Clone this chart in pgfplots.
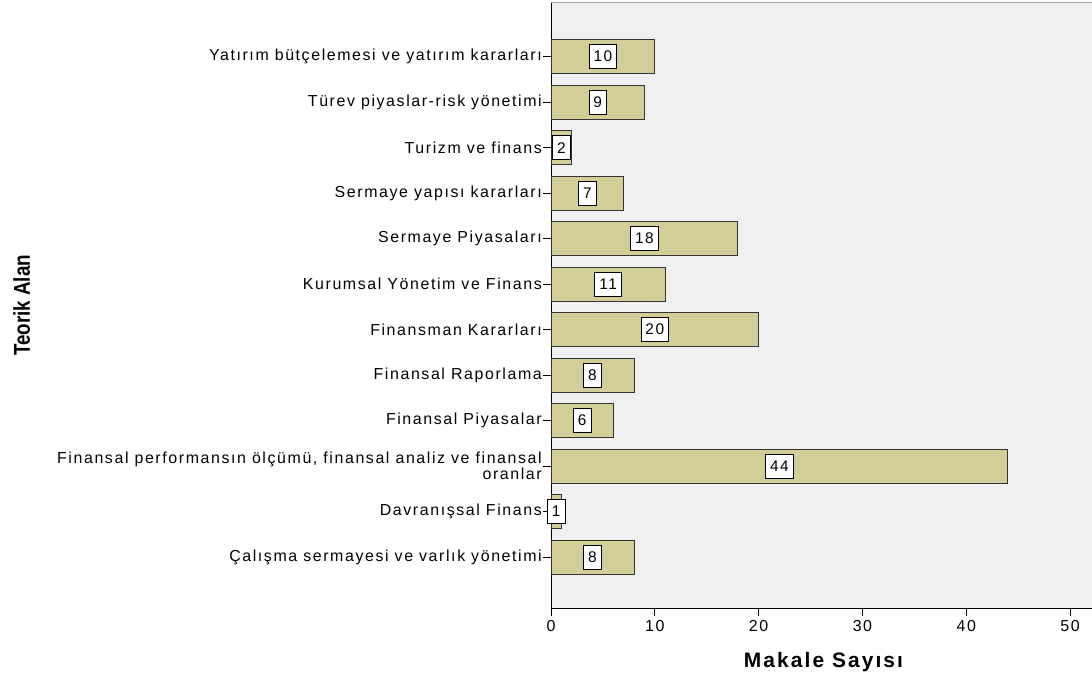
\documentclass[border=0pt]{standalone}
\usepackage{fontspec}
\setmainfont{Liberation Sans}[LetterSpace=10]
\newfontfamily\narrowfont{Liberation Sans}[FakeStretch=0.82]
\usepackage{pgfplots}
\usepackage{pgfplotstable}
\pgfplotsset{compat=1.18}
\definecolor{spssbar}{RGB}{211,206,151}
\definecolor{spssbg}{RGB}{240,240,240}

% bottom category first (y = 0)
\pgfplotstableread{
y v
0 8
1 1
2 44
3 6
4 8
5 20
6 11
7 18
8 7
9 2
10 9
11 10
}\makale

\begin{document}
\begin{tikzpicture}
\useasboundingbox (-551bp,-65bp) rectangle (541bp,608bp);
\begin{axis}[
    at={(0,0)}, anchor=south west,
    scale only axis,
    width=545bp, height=605bp,
    xmin=0, xmax=52.5,
    ymin=-1.12, ymax=12.18,
    axis x line*=bottom,
    axis y line*=left,
    axis line style={black, line width=0.9bp},
    axis background/.style={fill=spssbg},
    extra description/.code={
        \draw[gray!70, line width=1bp] (rel axis cs:0,1) -- (rel axis cs:1,1);
    },
    xtick={0,10,...,50},
    ytick={0,...,11},
    yticklabels={
        Çalışma sermayesi ve varlık yönetimi,
        Davranışsal Finans,
        {Finansal performansın ölçümü, finansal analiz ve finansal\\oranlar},
        Finansal Piyasalar,
        Finansal Raporlama,
        Finansman Kararları,
        Kurumsal Yönetim ve Finans,
        Sermaye Piyasaları,
        Sermaye yapısı kararları,
        Turizm ve finans,
        Türev piyaslar-risk yönetimi,
        Yatırım bütçelemesi ve yatırım kararları
    },
    tick align=outside,
    major tick length=8bp,
    tick style={black, line width=0.9bp},
    /pgf/number format/assume math mode=true,
    ticklabel style={font=\fontsize{16}{16}\selectfont},
    yticklabel style={align=right, inner sep=1bp},
    xticklabel style={yshift=-1bp},
    xlabel={Makale Sayısı},
    xlabel style={font=\fontsize{21}{24}\selectfont\bfseries, yshift=-14bp},
    ylabel={Teorik Alan},
    ylabel style={font=\fontsize{23}{26}\selectfont\narrowfont\bfseries,
        at={(axis description cs:-0.971,0.5)}, anchor=center},
]
\addplot[xbar, bar width=0.75, fill=spssbar, draw=black!80, line width=0.9bp]
    table[x=v, y=y] {\makale};
\addplot[draw=none, mark=none, nodes near coords, point meta=explicit symbolic,
    nodes near coords style={anchor=center, fill=white, draw=black, line width=0.8bp,
        inner xsep=4.5bp, inner ysep=0bp, minimum height=24bp,
        font=\fontsize{15.5}{16}\selectfont}]
    table[x expr=\thisrow{v}/2, y=y, meta=v] {\makale};
\end{axis}
\end{tikzpicture}
\end{document}
